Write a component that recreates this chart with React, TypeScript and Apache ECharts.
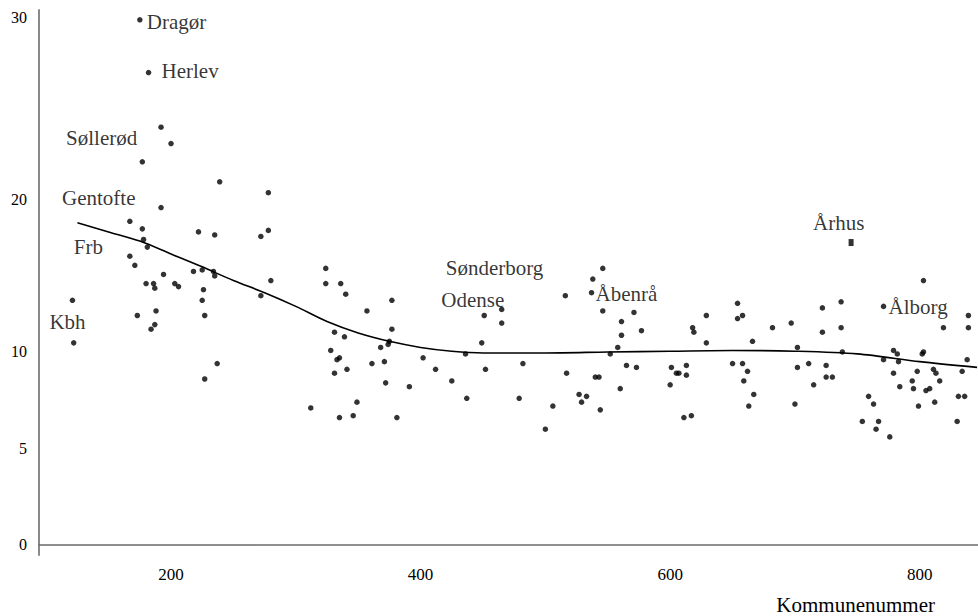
import React, { useEffect, useRef } from "react";
import * as echarts from "echarts";

// ---- data ----
const kommuneNr = [
  122, 200, 177, 239, 167, 177, 222, 235, 178, 181, 171, 194, 218, 225, 234, 235, 180, 186, 187, 203,
  206, 226, 225, 173, 188, 227, 187, 184, 237, 227, 278, 278, 272, 280, 272, 324, 324, 336, 340, 357,
  377, 377, 331, 339, 375, 374, 368, 328, 335, 333, 361, 371, 402, 341, 331, 372, 391, 412, 425, 436,
  437, 312, 349, 335, 346, 381, 449, 452, 465, 482, 479, 506, 500, 516, 517, 527, 533, 529, 540, 543,
  544, 546, 538, 546, 552, 558, 561, 561, 571, 577, 565, 573, 560, 601, 605, 607, 613, 613, 600, 611,
  617, 618, 619, 629, 629, 654, 654, 658, 666, 650, 658, 662, 659, 667, 663, 682, 697, 702, 702, 711,
  715, 700, 722, 722, 737, 737, 738, 725, 725, 730, 803, 819, 839, 839, 779, 782, 783, 771, 779, 784,
  794, 795, 798, 802, 803, 811, 813, 816, 805, 808, 812, 799, 834, 838, 831, 836, 830, 759, 763, 754,
  767, 765, 776,
];
const values = [
  10.6, 23.1, 22.1, 21.0, 18.6, 18.1, 17.9, 17.7, 17.4, 16.9, 15.7, 15.1, 15.3, 15.4, 15.3, 15.0, 14.5, 14.5, 14.2, 14.5,
  14.3, 14.1, 13.4, 12.4, 12.7, 12.4, 11.8, 11.5, 9.4, 8.6, 20.4, 18.0, 17.6, 14.7, 13.7, 15.5, 14.5, 14.5, 13.8, 12.7,
  13.4, 11.5, 11.3, 11.0, 10.7, 10.5, 10.3, 10.1, 9.7, 9.6, 9.4, 9.5, 9.7, 9.1, 8.9, 8.4, 8.2, 9.1, 8.5, 9.9,
  7.6, 7.1, 7.4, 6.6, 6.7, 6.6, 10.6, 9.1, 11.9, 9.4, 7.6, 7.2, 6.0, 13.7, 8.9, 7.8, 7.7, 7.4, 8.7, 8.7,
  7.0, 15.5, 14.8, 12.7, 9.9, 10.3, 12.0, 11.1, 12.6, 11.4, 9.3, 9.2, 8.1, 9.2, 8.9, 8.9, 9.3, 8.8, 8.3, 6.6,
  6.7, 11.6, 11.3, 12.4, 10.6, 13.2, 12.2, 12.4, 10.7, 9.4, 9.4, 9.0, 8.5, 7.8, 7.2, 11.6, 11.9, 10.3, 9.2, 9.4,
  8.3, 7.3, 12.9, 11.3, 13.3, 11.6, 10.0, 9.3, 8.7, 8.7, 14.7, 11.6, 12.4, 11.6, 10.1, 9.9, 9.5, 9.6, 8.9, 8.2,
  8.5, 8.1, 9.0, 9.9, 10.0, 9.1, 8.9, 8.5, 8.0, 8.1, 7.4, 7.2, 9.0, 9.6, 7.7, 7.7, 6.4, 7.7, 7.3, 6.4,
  6.4, 6.0, 5.6,
];

const namedKommuner = ["Dragør", "Herlev", "Søllerød", "Gentofte", "Frb", "Kbh", "Sønderborg", "Odense", "Åbenrå", "Århus", "Ålborg"];
const namedNr = [175, 182, 192, 192, 167, 121, 465, 451, 537, 745, 771];
const namedValues = [29.9, 27.0, 24.0, 19.5, 16.3, 13.4, 12.8, 12.4, 13.9, 17.2, 13.0];

const trendNr = [125, 150, 175, 200, 225, 250, 275, 300, 325, 350, 375, 400, 425, 450, 500, 550, 600, 650, 700, 750, 800, 846];
const trendValues = [18.5, 17.9, 17.3, 16.45, 15.6, 14.7, 13.9, 13.0, 12.0, 11.25, 10.7, 10.3, 10.05, 9.95, 9.95, 10.0, 10.05, 10.1, 10.05, 9.9, 9.5, 9.2];

const xTicks = [200, 400, 600, 800];
const yTicks = [0, 5, 10, 20, 30];
const xAxisTitle = "Kommunenummer";

// ---- layout / scale config ----
// the original vertical axis is not linear: each decade has its own drawn length
const Y_BREAKS = [0, 10, 20, 30];
const Y_SPANS = [10, 7.876, 9.43];
function yScale(v: number): number {
  let acc = 0;
  for (let i = 0; i < Y_SPANS.length; i++) {
    const lo = Y_BREAKS[i];
    const hi = Y_BREAKS[i + 1];
    const isLast = i === Y_SPANS.length - 1;
    if (v <= hi || isLast) {
      if (v < lo && i === 0) return ((v - lo) / (hi - lo)) * Y_SPANS[i];
      return acc + ((v - lo) / (hi - lo)) * Y_SPANS[i];
    }
    acc += Y_SPANS[i];
  }
  return acc;
}

// label offsets (text left edge / vertical centre relative to the point)
const labelOffsets: [number, number][] = [
  [7, 2], [13, -2], [-95, 11], [-99, -10], [-56, -9], [-23, 22], [-56, -41], [-43, -15], [4, 1], [-38, -20], [5, 1],
];

const FONT = "'Liberation Serif', 'DejaVu Serif', serif";

export default function App() {
  const ref = useRef<HTMLDivElement>(null);
  useEffect(() => {
    if (!ref.current) return;
    const chart = echarts.init(ref.current, null, { renderer: "svg" });
    const tickPos = yTicks.map(yScale);
    const option: any = {
      animation: false,
      backgroundColor: "#ffffff",
      title: {
        text: xAxisTitle,
        right: 43,
        top: 594,
        padding: 0,
        textStyle: { fontFamily: FONT, fontSize: 21, fontWeight: "normal", color: "#000" },
      },
      grid: { left: 39, right: 0, top: 10, bottom: 61, containLabel: false },
      xAxis: {
        type: "value",
        min: 94.2,
        max: 846.7,
        axisLine: { show: true, lineStyle: { color: "#6a6a6a", width: 1.5 } },
        axisTick: { show: false },
        splitLine: { show: false },
        axisLabel: {
          customValues: xTicks,
          fontFamily: FONT,
          fontSize: 17,
          color: "#000",
          margin: 11,
        },
      },
      yAxis: {
        type: "value",
        min: -0.52,
        max: 27.72,
        axisLine: { show: true, lineStyle: { color: "#8a8a8a", width: 2 } },
        axisTick: { show: false },
        splitLine: { show: false },
        axisLabel: {
          customValues: tickPos,
          fontFamily: FONT,
          fontSize: 16,
          color: "#000",
          margin: 12,
          formatter: (val: number) => {
            const i = tickPos.findIndex((p) => Math.abs(p - val) < 1e-6);
            return i >= 0 ? String(yTicks[i]) : "";
          },
        },
      },
      series: [
        {
          type: "line",
          data: trendNr.map((x, i) => [x, yScale(trendValues[i])]),
          smooth: 0.3,
          symbol: "none",
          lineStyle: { color: "#000", width: 1.6 },
          z: 2,
        },
        {
          type: "scatter",
          data: kommuneNr.map((x, i) => [x, yScale(values[i])]),
          symbol: "circle",
          symbolSize: 5.5,
          itemStyle: { color: "#000" },
          z: 3,
        },
        {
          type: "scatter",
          data: namedNr.map((x, i) => ({
            name: namedKommuner[i],
            value: [x, yScale(namedValues[i])],
            symbol: namedKommuner[i] === "Århus" ? "rect" : "circle",
            symbolSize: namedKommuner[i] === "Århus" ? [5, 7] : 5.5,
            label: { offset: labelOffsets[i] },
          })),
          itemStyle: { color: "#000" },
          label: {
            show: true,
            position: "inside",
            align: "left",
            verticalAlign: "middle",
            formatter: (p: any) => p.name,
            fontFamily: FONT,
            fontSize: 21,
            color: "#000",
          },
          z: 4,
        },
      ],
    };
    chart.setOption(option);
    return () => chart.dispose();
  }, []);
  return <div ref={ref} style={{ position: "absolute", left: 0, top: 0, width: 978, height: 616 }} />;
}
